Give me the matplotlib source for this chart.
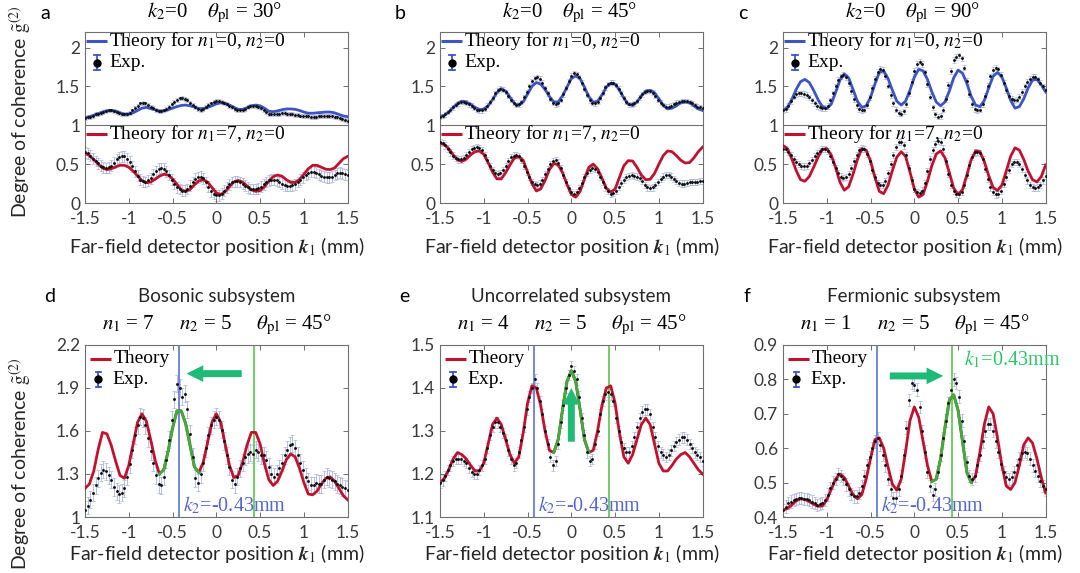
import numpy as np
import matplotlib.pyplot as plt

plt.rcParams['font.family'] = ['Lato', 'DejaVu Sans']
plt.rcParams['mathtext.fontset'] = 'stix'
plt.rcParams['axes.unicode_minus'] = False

SERIF = ['Liberation Serif', 'DejaVu Serif']

# sampling grids (mm)
k_th = np.linspace(-1.5, 1.5, 61)
k_exp = np.linspace(-1.5, 1.5, 101)

# ---- panel a : theta_pl = 30 deg ----
a_th_n0 = [1.10, 1.11, 1.13, 1.15, 1.17, 1.185, 1.19, 1.18, 1.16, 1.14,
           1.145, 1.16, 1.19, 1.22, 1.23, 1.215, 1.20, 1.18, 1.185, 1.20,
           1.22, 1.24, 1.255, 1.26, 1.25, 1.235, 1.215, 1.215, 1.23, 1.25,
           1.275, 1.29, 1.28, 1.26, 1.23, 1.205, 1.205, 1.225, 1.25, 1.26,
           1.25, 1.22, 1.18, 1.175, 1.185, 1.20, 1.21, 1.21, 1.205, 1.19,
           1.17, 1.155, 1.155, 1.16, 1.165, 1.17, 1.17, 1.16, 1.14, 1.12,
           1.11]
a_exp_n0 = [1.09, 1.10, 1.11, 1.12, 1.14, 1.15, 1.16, 1.17, 1.18, 1.19,
            1.19, 1.18, 1.17, 1.155, 1.145, 1.14, 1.145, 1.16, 1.19, 1.22,
            1.25, 1.28, 1.29, 1.28, 1.26, 1.24, 1.22, 1.20, 1.185, 1.18,
            1.19, 1.21, 1.24, 1.27, 1.30, 1.33, 1.345, 1.35, 1.34, 1.32,
            1.29, 1.26, 1.23, 1.21, 1.20, 1.21, 1.23, 1.26, 1.28, 1.30,
            1.31, 1.31, 1.30, 1.29, 1.27, 1.25, 1.23, 1.21, 1.195, 1.19,
            1.195, 1.21, 1.23, 1.245, 1.25, 1.25, 1.24, 1.22, 1.19, 1.165,
            1.145, 1.14, 1.14, 1.145, 1.15, 1.155, 1.155, 1.15, 1.145, 1.14,
            1.135, 1.13, 1.125, 1.12, 1.12, 1.115, 1.11, 1.11, 1.11, 1.115,
            1.12, 1.12, 1.12, 1.12, 1.115, 1.11, 1.10, 1.09, 1.08, 1.07,
            1.06]
a_th_n7 = [0.64, 0.61, 0.56, 0.50, 0.45, 0.43, 0.44, 0.465, 0.485, 0.485,
           0.46, 0.41, 0.35, 0.29, 0.26, 0.27, 0.305, 0.345, 0.37, 0.36,
           0.31, 0.24, 0.17, 0.15, 0.175, 0.235, 0.285, 0.30, 0.27, 0.20,
           0.13, 0.11, 0.145, 0.21, 0.27, 0.29, 0.27, 0.22, 0.17, 0.15,
           0.16, 0.21, 0.28, 0.34, 0.36, 0.345, 0.30, 0.265, 0.265, 0.30,
           0.37, 0.44, 0.485, 0.485, 0.46, 0.435, 0.43, 0.45, 0.51, 0.57,
           0.60]
a_exp_n7 = [0.65, 0.64, 0.61, 0.57, 0.54, 0.51, 0.48, 0.46, 0.45, 0.46,
            0.48, 0.52, 0.56, 0.59, 0.60, 0.60, 0.57, 0.53, 0.47, 0.41,
            0.35, 0.30, 0.28, 0.27, 0.29, 0.32, 0.37, 0.41, 0.44, 0.45,
            0.44, 0.41, 0.36, 0.30, 0.25, 0.20, 0.18, 0.16, 0.16, 0.18,
            0.22, 0.27, 0.31, 0.33, 0.34, 0.32, 0.27, 0.21, 0.15, 0.12,
            0.10, 0.10, 0.12, 0.16, 0.20, 0.24, 0.27, 0.28, 0.28, 0.27,
            0.25, 0.22, 0.20, 0.18, 0.18, 0.18, 0.19, 0.21, 0.24, 0.27,
            0.29, 0.30, 0.30, 0.29, 0.27, 0.25, 0.23, 0.22, 0.22, 0.23,
            0.24, 0.27, 0.30, 0.33, 0.36, 0.38, 0.40, 0.40, 0.39, 0.37,
            0.35, 0.34, 0.33, 0.33, 0.34, 0.36, 0.38, 0.39, 0.38, 0.37,
            0.36]

# ---- panel b : theta_pl = 45 deg ----
b_th_n0 = [1.11, 1.13, 1.17, 1.23, 1.28, 1.31, 1.30, 1.27, 1.23, 1.20,
           1.21, 1.25, 1.33, 1.42, 1.47, 1.44, 1.36, 1.28, 1.255, 1.30,
           1.40, 1.50, 1.55, 1.53, 1.46, 1.37, 1.30, 1.30, 1.38, 1.49,
           1.60, 1.635, 1.60, 1.49, 1.37, 1.295, 1.31, 1.39, 1.49, 1.54,
           1.53, 1.45, 1.35, 1.27, 1.255, 1.30, 1.38, 1.44, 1.45, 1.42,
           1.34, 1.26, 1.21, 1.22, 1.25, 1.29, 1.30, 1.29, 1.25, 1.21,
           1.19]
b_exp_n0 = [1.11, 1.12, 1.14, 1.17, 1.20, 1.23, 1.26, 1.28, 1.30, 1.30,
            1.29, 1.27, 1.25, 1.22, 1.20, 1.19, 1.19, 1.21, 1.25, 1.30,
            1.35, 1.41, 1.45, 1.47, 1.46, 1.43, 1.38, 1.33, 1.29, 1.26,
            1.27, 1.30, 1.36, 1.43, 1.50, 1.57, 1.61, 1.62, 1.60, 1.55,
            1.48, 1.41, 1.34, 1.29, 1.27, 1.28, 1.33, 1.40, 1.48, 1.57,
            1.64, 1.67, 1.66, 1.62, 1.55, 1.47, 1.39, 1.32, 1.29, 1.28,
            1.30, 1.35, 1.42, 1.49, 1.53, 1.55, 1.55, 1.52, 1.47, 1.41,
            1.35, 1.30, 1.27, 1.27, 1.28, 1.31, 1.36, 1.40, 1.43, 1.44,
            1.44, 1.42, 1.38, 1.33, 1.29, 1.26, 1.24, 1.24, 1.25, 1.27,
            1.29, 1.30, 1.31, 1.31, 1.31, 1.30, 1.28, 1.26, 1.24, 1.23,
            1.22]
b_th_n7 = [0.77, 0.75, 0.70, 0.62, 0.555, 0.535, 0.565, 0.62, 0.66, 0.67,
           0.625, 0.52, 0.40, 0.31, 0.31, 0.39, 0.49, 0.58, 0.595, 0.55,
           0.40, 0.25, 0.155, 0.18, 0.29, 0.43, 0.51, 0.49, 0.39, 0.24,
           0.11, 0.075, 0.15, 0.31, 0.46, 0.50, 0.44, 0.32, 0.19, 0.14,
           0.18, 0.33, 0.48, 0.545, 0.54, 0.46, 0.36, 0.30, 0.305, 0.38,
           0.50, 0.61, 0.67, 0.66, 0.61, 0.55, 0.515, 0.52, 0.58, 0.66,
           0.72]
b_exp_n7 = [0.78, 0.77, 0.74, 0.70, 0.65, 0.61, 0.58, 0.56, 0.56, 0.58,
            0.62, 0.66, 0.69, 0.71, 0.72, 0.71, 0.68, 0.62, 0.55, 0.48,
            0.42, 0.39, 0.37, 0.38, 0.42, 0.48, 0.54, 0.59, 0.61, 0.62,
            0.60, 0.55, 0.48, 0.40, 0.33, 0.27, 0.24, 0.23, 0.25, 0.30,
            0.37, 0.44, 0.50, 0.54, 0.55, 0.52, 0.45, 0.36, 0.27, 0.19,
            0.14, 0.12, 0.14, 0.19, 0.26, 0.33, 0.39, 0.43, 0.45, 0.44,
            0.40, 0.34, 0.27, 0.20, 0.15, 0.12, 0.13, 0.16, 0.21, 0.26,
            0.30, 0.33, 0.35, 0.36, 0.35, 0.34, 0.32, 0.28, 0.23, 0.20,
            0.19, 0.20, 0.23, 0.27, 0.31, 0.34, 0.36, 0.36, 0.34, 0.31,
            0.28, 0.26, 0.25, 0.25, 0.26, 0.27, 0.27, 0.27, 0.27, 0.28,
            0.28]

# ---- panel c : theta_pl = 90 deg ----
c_th_n0 = [1.19, 1.23, 1.33, 1.46, 1.56, 1.59, 1.55, 1.45, 1.33, 1.24,
           1.215, 1.27, 1.42, 1.58, 1.66, 1.61, 1.46, 1.31, 1.23, 1.25,
           1.36, 1.53, 1.68, 1.70, 1.60, 1.45, 1.31, 1.26, 1.31, 1.45,
           1.62, 1.72, 1.70, 1.59, 1.43, 1.30, 1.25, 1.30, 1.44, 1.61,
           1.71, 1.67, 1.54, 1.37, 1.26, 1.24, 1.32, 1.48, 1.63, 1.68,
           1.62, 1.48, 1.32, 1.22, 1.24, 1.34, 1.48, 1.58, 1.59, 1.52,
           1.43]
c_exp_n0 = [1.19, 1.21, 1.25, 1.31, 1.37, 1.40, 1.41, 1.41, 1.40, 1.39,
            1.36, 1.32, 1.28, 1.25, 1.23, 1.22, 1.22, 1.25, 1.32, 1.41,
            1.50, 1.58, 1.63, 1.65, 1.62, 1.54, 1.44, 1.34, 1.26, 1.21,
            1.19, 1.20, 1.26, 1.36, 1.48, 1.60, 1.69, 1.73, 1.71, 1.63,
            1.51, 1.39, 1.28, 1.20, 1.16, 1.15, 1.18, 1.27, 1.41, 1.56,
            1.70, 1.79, 1.82, 1.79, 1.68, 1.53, 1.37, 1.23, 1.14, 1.11,
            1.12, 1.20, 1.34, 1.52, 1.70, 1.84, 1.88, 1.90, 1.86, 1.74,
            1.57, 1.40, 1.27, 1.21, 1.19, 1.20, 1.27, 1.38, 1.51, 1.63,
            1.71, 1.74, 1.72, 1.65, 1.55, 1.45, 1.38, 1.34, 1.32, 1.33,
            1.37, 1.43, 1.50, 1.56, 1.60, 1.62, 1.62, 1.59, 1.55, 1.50,
            1.45]
c_th_n7 = [0.74, 0.70, 0.57, 0.42, 0.30, 0.28, 0.34, 0.46, 0.59, 0.69,
           0.70, 0.62, 0.46, 0.27, 0.165, 0.21, 0.37, 0.56, 0.70, 0.68,
           0.54, 0.33, 0.15, 0.12, 0.23, 0.42, 0.59, 0.66, 0.60, 0.40,
           0.18, 0.075, 0.11, 0.28, 0.48, 0.63, 0.67, 0.58, 0.39, 0.19,
           0.11, 0.17, 0.36, 0.56, 0.67, 0.66, 0.53, 0.35, 0.20, 0.16,
           0.23, 0.41, 0.60, 0.71, 0.68, 0.56, 0.41, 0.30, 0.27, 0.34,
           0.49]
c_exp_n7 = [0.70, 0.69, 0.66, 0.62, 0.57, 0.53, 0.50, 0.48, 0.47, 0.48,
            0.51, 0.55, 0.60, 0.64, 0.67, 0.69, 0.69, 0.67, 0.61, 0.53,
            0.45, 0.38, 0.34, 0.32, 0.33, 0.37, 0.45, 0.54, 0.62, 0.68,
            0.70, 0.69, 0.63, 0.54, 0.43, 0.33, 0.26, 0.23, 0.23, 0.28,
            0.38, 0.50, 0.62, 0.72, 0.78, 0.79, 0.74, 0.62, 0.45, 0.29,
            0.18, 0.14, 0.13, 0.16, 0.26, 0.41, 0.56, 0.68, 0.76, 0.80,
            0.79, 0.70, 0.54, 0.37, 0.23, 0.15, 0.12, 0.11, 0.14, 0.23,
            0.36, 0.49, 0.59, 0.65, 0.66, 0.64, 0.56, 0.44, 0.31, 0.20,
            0.14, 0.11, 0.12, 0.16, 0.24, 0.34, 0.43, 0.50, 0.53, 0.53,
            0.50, 0.44, 0.36, 0.29, 0.23, 0.20, 0.19, 0.20, 0.23, 0.29,
            0.35]

# ---- panel d : bosonic, n1=7 n2=5 ----
d_th = [1.20, 1.23, 1.32, 1.47, 1.59, 1.58, 1.50, 1.39, 1.29, 1.27,
        1.36, 1.51, 1.66, 1.72, 1.67, 1.54, 1.40, 1.30, 1.33, 1.46,
        1.62, 1.74, 1.74, 1.65, 1.50, 1.35, 1.31, 1.38, 1.52, 1.66,
        1.72, 1.66, 1.51, 1.36, 1.275, 1.29, 1.38, 1.50, 1.59, 1.59,
        1.51, 1.37, 1.26, 1.22, 1.25, 1.32, 1.40, 1.44, 1.42, 1.34,
        1.24, 1.16, 1.155, 1.18, 1.23, 1.27, 1.28, 1.25, 1.20, 1.15,
        1.12]
d_exp = [1.05, 1.08, 1.12, 1.17, 1.22, 1.27, 1.31, 1.33, 1.32, 1.29,
         1.26, 1.21, 1.18, 1.16, 1.17, 1.20, 1.28, 1.37, 1.47, 1.57,
         1.64, 1.70, 1.69, 1.64, 1.55, 1.46, 1.38, 1.29, 1.23, 1.22,
         1.28, 1.40, 1.54, 1.68, 1.82, 1.93, 1.90, 1.84, 1.86, 1.75,
         1.58, 1.42, 1.27, 1.24, 1.30, 1.38, 1.48, 1.57, 1.64, 1.68,
         1.70, 1.68, 1.61, 1.53, 1.43, 1.35, 1.26, 1.23, 1.28, 1.34,
         1.38, 1.42, 1.44, 1.45, 1.44, 1.47, 1.45, 1.43, 1.43, 1.40,
         1.35, 1.30, 1.28, 1.30, 1.34, 1.38, 1.43, 1.47, 1.50, 1.51,
         1.48, 1.43, 1.38, 1.33, 1.28, 1.25, 1.22, 1.22, 1.24, 1.23,
         1.23, 1.26, 1.28, 1.27, 1.26, 1.25, 1.23, 1.22, 1.21, 1.20,
         1.19]

# ---- panel e : uncorrelated, n1=4 n2=5 ----
e_th = [1.18, 1.19, 1.21, 1.235, 1.25, 1.245, 1.235, 1.22, 1.207, 1.207,
        1.225, 1.27, 1.315, 1.33, 1.315, 1.28, 1.245, 1.225, 1.24, 1.295,
        1.365, 1.405, 1.40, 1.36, 1.30, 1.255, 1.25, 1.28, 1.35, 1.415,
        1.44, 1.415, 1.35, 1.28, 1.25, 1.255, 1.30, 1.36, 1.40, 1.405,
        1.365, 1.295, 1.24, 1.225, 1.245, 1.28, 1.315, 1.33, 1.315, 1.27,
        1.225, 1.207, 1.207, 1.22, 1.235, 1.245, 1.25, 1.24, 1.225, 1.21,
        1.20]
e_exp = [1.18, 1.185, 1.195, 1.21, 1.22, 1.23, 1.235, 1.235, 1.235, 1.23,
         1.225, 1.215, 1.205, 1.20, 1.20, 1.21, 1.22, 1.235, 1.26, 1.29,
         1.31, 1.32, 1.32, 1.31, 1.295, 1.28, 1.255, 1.235, 1.22, 1.225,
         1.25, 1.28, 1.31, 1.35, 1.38, 1.40, 1.42, 1.40, 1.37, 1.34,
         1.30, 1.27, 1.24, 1.22, 1.23, 1.27, 1.32, 1.36, 1.40, 1.43,
         1.45, 1.44, 1.42, 1.38, 1.33, 1.29, 1.25, 1.23, 1.235, 1.27,
         1.30, 1.34, 1.37, 1.385, 1.39, 1.385, 1.37, 1.33, 1.30, 1.275,
         1.26, 1.25, 1.25, 1.265, 1.285, 1.31, 1.33, 1.345, 1.35, 1.35,
         1.34, 1.31, 1.285, 1.265, 1.25, 1.245, 1.24, 1.245, 1.255, 1.265,
         1.275, 1.28, 1.285, 1.285, 1.28, 1.27, 1.26, 1.25, 1.245, 1.24,
         1.23]

# ---- panel f : fermionic, n1=1 n2=5 ----
f_th = [0.42, 0.425, 0.435, 0.447, 0.453, 0.451, 0.445, 0.437, 0.431, 0.432,
        0.45, 0.48, 0.51, 0.525, 0.515, 0.49, 0.465, 0.453, 0.465, 0.51,
        0.57, 0.625, 0.63, 0.60, 0.545, 0.495, 0.478, 0.51, 0.59, 0.68,
        0.72, 0.69, 0.62, 0.55, 0.503, 0.51, 0.57, 0.66, 0.74, 0.755,
        0.71, 0.62, 0.53, 0.50, 0.52, 0.59, 0.67, 0.72, 0.70, 0.63,
        0.55, 0.49, 0.48, 0.50, 0.55, 0.61, 0.63, 0.615, 0.57, 0.515,
        0.47]
f_exp = [0.42, 0.43, 0.44, 0.445, 0.45, 0.452, 0.455, 0.455, 0.453, 0.452,
         0.45, 0.445, 0.44, 0.435, 0.437, 0.44, 0.45, 0.465, 0.485, 0.50,
         0.51, 0.525, 0.52, 0.51, 0.495, 0.48, 0.467, 0.46, 0.46, 0.47,
         0.49, 0.52, 0.55, 0.575, 0.60, 0.62, 0.63, 0.61, 0.58, 0.55,
         0.51, 0.48, 0.455, 0.455, 0.48, 0.52, 0.58, 0.66, 0.74, 0.79,
         0.785, 0.77, 0.72, 0.65, 0.59, 0.53, 0.49, 0.465, 0.48, 0.53,
         0.58, 0.63, 0.68, 0.73, 0.77, 0.80, 0.79, 0.75, 0.68, 0.62,
         0.56, 0.52, 0.51, 0.52, 0.55, 0.58, 0.62, 0.65, 0.67, 0.67,
         0.65, 0.62, 0.59, 0.555, 0.53, 0.515, 0.51, 0.515, 0.53, 0.55,
         0.57, 0.585, 0.59, 0.585, 0.57, 0.55, 0.535, 0.52, 0.505, 0.49,
         0.48]

# error bar half-heights per series
err = {'a0': 0.025, 'a7': 0.07, 'b0': 0.03, 'b7': 0.04, 'c0': 0.035,
       'c7': 0.04, 'd': 0.06, 'e': 0.012, 'f': 0.018}

k2_line = -0.43
k1_line = 0.43

xticks = [-1.5, -1, -0.5, 0, 0.5, 1, 1.5]
xticklabels = ['-1.5', '-1', '-0.5', '0', '0.5', '1', '1.5']

BLUE = '#3d55c4'
RED = '#c0122e'
GREEN = '#3aaf3a'
VBLUE = '#6a7dd6'
VGREEN = '#68c95c'
ARROW = '#1fba78'
TGREEN = '#2ec46a'
TBLUE = '#5566cc'
ERRC = '#a5b0dc'
AXC = '#707070'
TXT = '#262626'


def setup(ax, ylim, yticks, ylabels):
    ax.set_xlim(-1.5, 1.5)
    ax.set_ylim(*ylim)
    ax.set_xticks(xticks)
    ax.set_xticklabels(xticklabels)
    ax.set_yticks(yticks)
    ax.set_yticklabels(ylabels)
    ax.tick_params(direction='in', top=True, right=True, length=3.5,
                   width=0.7, color=AXC, labelcolor='#3a3a3a',
                   labelsize=12.5)
    ax.tick_params(axis='x', pad=5.5)
    ax.tick_params(axis='y', pad=3.5)
    for s in ax.spines.values():
        s.set_color(AXC)
        s.set_linewidth(0.8)


def exp_points(ax, y, e):
    ax.errorbar(k_exp, y, yerr=e, fmt='none', ecolor=ERRC, elinewidth=0.7,
                capsize=1.6, capthick=0.6, alpha=0.8, zorder=1)
    ax.plot(k_exp, y, 'o', color='#111111', ms=2.1, mew=0, zorder=4)


def leg_theory(ax, x0, y, color, label):
    ax.plot([x0, x0 + 0.08], [y, y], transform=ax.transAxes, color=color,
            lw=2.2, solid_capstyle='butt', zorder=6)
    ax.text(x0 + 0.088, y, label, transform=ax.transAxes, ha='left',
            va='center', fontsize=14, family=SERIF, zorder=6)


def leg_exp(ax, x, y, tx):
    h = 0.045
    ax.plot([x, x], [y - h, y + h], transform=ax.transAxes, color=BLUE,
            lw=1.3, zorder=6)
    for yy in (y - h, y + h):
        ax.plot([x - 0.01, x + 0.01], [yy, yy], transform=ax.transAxes,
                color=BLUE, lw=1.3, zorder=6)
    ax.plot([x], [y], 'o', color='black', ms=5, transform=ax.transAxes,
            zorder=7)
    ax.text(tx, y, 'Exp.', transform=ax.transAxes, ha='left', va='center',
            fontsize=14, family=SERIF, zorder=6)


fig = plt.figure(figsize=(10.8, 5.73), dpi=100)

lefts = [0.0787, 0.4074, 0.725]
width = 0.2432
XLAB = r'Far-field detector position $\boldsymbol{k}_1$ (mm)'

# ---- top row ----
top_panels = [
    ('a', '30', a_th_n0, a_exp_n0, a_th_n7, a_exp_n7, 'a0', 'a7'),
    ('b', '45', b_th_n0, b_exp_n0, b_th_n7, b_exp_n7, 'b0', 'b7'),
    ('c', '90', c_th_n0, c_exp_n0, c_th_n7, c_exp_n7, 'c0', 'c7'),
]
for i, (lab, ang, th0, ex0, th7, ex7, e0, e7) in enumerate(top_panels):
    ax = fig.add_axes([lefts[i], 0.6457, width, 0.2985])
    setup(ax, (0, 2.2), [0, 0.5, 1, 1.5, 2], ['0', '0.5', '1', '1.5', '2'])
    ax.axhline(1, color=AXC, lw=0.8, zorder=5)
    exp_points(ax, ex0, err[e0])
    exp_points(ax, ex7, err[e7])
    ax.plot(k_th, th0, color=BLUE, lw=2.0, zorder=3)
    ax.plot(k_th, th7, color=RED, lw=2.0, zorder=3)
    leg_theory(ax, 0.004, 0.95, BLUE, r'Theory for $n_1$=0, $n_2$=0')
    leg_exp(ax, 0.046, 0.82, 0.092)
    leg_theory(ax, 0.004, 0.405, RED, r'Theory for $n_1$=7, $n_2$=0')
    cx = lefts[i] + width / 2
    fig.text(cx - 0.002, 0.977,
             r'$k_2$=0    $\theta_{\mathrm{pl}}$ = ' + ang + '°',
             ha='center', va='center', fontsize=15, family=SERIF)
    fig.text(lefts[i] - 0.037, 0.977, lab, ha='center', va='center',
             fontsize=14)
    fig.text(cx, 0.569, XLAB, ha='center', va='center', fontsize=14,
             color=TXT)

# ---- bottom row ----
bottom_panels = [
    ('d', 'Bosonic subsystem', '7', d_th, d_exp, 'd', (1, 2.2),
     [1, 1.3, 1.6, 1.9, 2.2], ['1', '1.3', '1.6', '1.9', '2.2'], (-0.65, -0.2)),
    ('e', 'Uncorrelated subsystem', '4', e_th, e_exp, 'e', (1.1, 1.5),
     [1.1, 1.2, 1.3, 1.4, 1.5], ['1.1', '1.2', '1.3', '1.4', '1.5'], (-0.2, 0.2)),
    ('f', 'Fermionic subsystem', '1', f_th, f_exp, 'f', (0.4, 0.9),
     [0.4, 0.5, 0.6, 0.7, 0.8, 0.9], ['0.4', '0.5', '0.6', '0.7', '0.8', '0.9'],
     (0.2, 0.65)),
]
for i, (lab, sub, n1, th, ex, ek, ylim, yt, ytl, gseg) in enumerate(bottom_panels):
    ax = fig.add_axes([lefts[i], 0.0977, width, 0.3003])
    setup(ax, ylim, yt, ytl)
    ax.axvline(k2_line, color=VBLUE, lw=1.3, zorder=2)
    ax.axvline(k1_line, color=VGREEN, lw=1.3, zorder=2)
    exp_points(ax, ex, err[ek])
    ax.plot(k_th, th, color=RED, lw=2.0, zorder=3)
    th_arr = np.array(th)
    m = (k_th >= gseg[0] - 1e-9) & (k_th <= gseg[1] + 1e-9)
    ax.plot(k_th[m], th_arr[m], color=GREEN, lw=2.0, zorder=3.5)
    leg_theory(ax, 0.02, 0.92, RED, 'Theory')
    leg_exp(ax, 0.05, 0.80, 0.105)
    yr = ylim[1] - ylim[0]
    ax.text(-0.385, ylim[0] + 0.065 * yr, r'$k_2$=-0.43mm', color=TBLUE,
            fontsize=14.5, family=SERIF, ha='left', va='center', zorder=6)
    cx = lefts[i] + width / 2
    fig.text(cx, 0.4817, sub, ha='center', va='center', fontsize=13.5,
             color=TXT)
    fig.text(cx, 0.4328,
             r'$n_1$ = ' + n1 + r'     $n_2$ = 5     $\theta_{\mathrm{pl}}$ = 45°',
             ha='center', va='center', fontsize=15, family=SERIF)
    fig.text(lefts[i] - 0.033, 0.4817, lab, ha='center', va='center',
             fontsize=14)
    fig.text(cx, 0.0332, XLAB, ha='center', va='center', fontsize=14,
             color=TXT)
    if lab == 'd':
        ax.annotate('', xy=(-0.34, 2.0), xytext=(0.29, 2.0),
                    arrowprops=dict(arrowstyle='simple,head_length=0.6,head_width=0.6,tail_width=0.25',
                                    color=ARROW, lw=0, shrinkA=0, shrinkB=0,
                                    mutation_scale=20), zorder=7)
    elif lab == 'e':
        ax.annotate('', xy=(0, 1.40), xytext=(0, 1.275),
                    arrowprops=dict(arrowstyle='simple,head_length=0.6,head_width=0.6,tail_width=0.25',
                                    color=ARROW, lw=0, shrinkA=0, shrinkB=0,
                                    mutation_scale=20), zorder=7)
    else:
        ax.annotate('', xy=(0.33, 0.81), xytext=(-0.28, 0.81),
                    arrowprops=dict(arrowstyle='simple,head_length=0.6,head_width=0.6,tail_width=0.25',
                                    color=ARROW, lw=0, shrinkA=0, shrinkB=0,
                                    mutation_scale=20), zorder=7)
        ax.text(0.57, 0.857, r'$k_1$=0.43mm', color=TGREEN, fontsize=14.5,
                family=SERIF, ha='left', va='center', zorder=6)

YLAB = r'Degree of coherence $\tilde{\mathrm{g}}^{(2)}$'
fig.text(0.0185, 0.805, YLAB, rotation=90, ha='center', va='center',
         fontsize=14, color=TXT)
fig.text(0.0185, 0.19, YLAB, rotation=90, ha='center', va='center',
         fontsize=14, color=TXT)

fig.savefig('out.png', dpi=100)
